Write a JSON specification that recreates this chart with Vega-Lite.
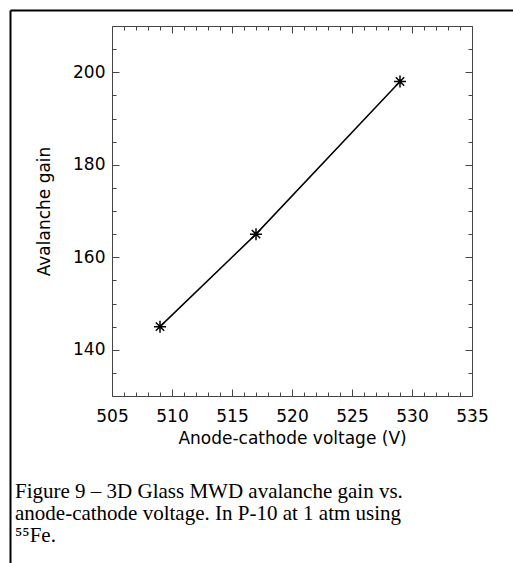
{
  "$schema": "https://vega.github.io/schema/vega-lite/v6.json",
  "autosize": {"type": "none"},
  "padding": {"left": 112, "top": 26, "right": 41, "bottom": 167},
  "width": 360,
  "height": 370,
  "background": "white",
  "config": {"view": {"stroke": null}, "axis": {"grid": false}},
  "data": {"values": [
    {"voltage": 509, "gain": 145},
    {"voltage": 517, "gain": 165},
    {"voltage": 529, "gain": 198}
  ]},
  "title": {
    "text": ["Figure 9 – 3D Glass MWD avalanche gain vs.", "anode-cathode voltage.  In P-10 at 1 atm using", "⁵⁵Fe."],
    "orient": "bottom", "anchor": "start", "frame": "group", "align": "left",
    "dx": -97, "offset": -101,
    "font": "Liberation Serif", "fontSize": 21, "fontWeight": "normal", "color": "black", "lineHeight": 22
  },
  "resolve": {"scale": {"x": "independent", "y": "independent"}},
  "layer": [
    {
      "layer": [
        {
          "mark": {"type": "line", "color": "black", "strokeWidth": 1.5},
          "encoding": {
            "x": {"field": "voltage", "type": "quantitative",
              "scale": {"domain": [505, 535], "nice": false, "zero": false},
              "axis": {"orient": "bottom", "values": [505, 510, 515, 520, 525, 530, 535], "format": "d",
                "tickSize": -7, "labelPadding": 19, "domain": true, "domainColor": "#444", "tickColor": "#444",
                "labelFont": "DejaVu Sans", "labelFontSize": 17, "labelColor": "black", "labelFlush": false, "labelOverlap": false,
                "title": "Anode-cathode voltage (V)", "titleFont": "DejaVu Sans", "titleFontSize": 17, "titleFontWeight": "normal", "titleColor": "black", "titlePadding": 6}},
            "y": {"field": "gain", "type": "quantitative",
              "scale": {"domain": [130, 210], "nice": false, "zero": false},
              "axis": {"orient": "left", "values": [140, 160, 180, 200], "format": "d",
                "tickSize": -7, "labelPadding": 14, "domain": true, "domainColor": "#444", "tickColor": "#444",
                "labelFont": "DejaVu Sans", "labelFontSize": 17, "labelColor": "black", "labelFlush": false, "labelOverlap": false,
                "title": "Avalanche gain", "titleFont": "DejaVu Sans", "titleFontSize": 17, "titleFontWeight": "normal", "titleColor": "black", "titlePadding": 19}}
          }
        },
        {
          "mark": {"type": "point", "shape": "M0,-1V1M-1,0H1M-0.7,-0.7L0.7,0.7M-0.7,0.7L0.7,-0.7", "size": 144, "filled": false, "stroke": "black", "strokeWidth": 1.5, "opacity": 1},
          "encoding": {
            "x": {"field": "voltage", "type": "quantitative"},
            "y": {"field": "gain", "type": "quantitative"}
          }
        }
      ]
    },
    {
      "mark": {"type": "point", "opacity": 0},
      "encoding": {
        "x": {"field": "voltage", "type": "quantitative",
          "scale": {"domain": [505, 535], "nice": false, "zero": false},
          "axis": {"orient": "bottom", "values": [506, 507, 508, 509, 511, 512, 513, 514, 516, 517, 518, 519, 521, 522, 523, 524, 526, 527, 528, 529, 531, 532, 533, 534],
            "tickSize": -4, "tickColor": "#444", "labels": false, "domain": false, "title": null}},
        "y": {"field": "gain", "type": "quantitative",
          "scale": {"domain": [130, 210], "nice": false, "zero": false},
          "axis": {"orient": "left", "values": [135, 145, 150, 155, 165, 170, 175, 185, 190, 195, 205],
            "tickSize": -4, "tickColor": "#444", "labels": false, "domain": false, "title": null}}
      }
    },
    {
      "mark": {"type": "point", "opacity": 0},
      "encoding": {
        "x": {"field": "voltage", "type": "quantitative",
          "scale": {"domain": [505, 535], "nice": false, "zero": false},
          "axis": {"orient": "top", "values": [505, 510, 515, 520, 525, 530, 535],
            "tickSize": -7, "tickColor": "#444", "domainColor": "#444", "labels": false, "domain": true, "title": null}},
        "y": {"field": "gain", "type": "quantitative",
          "scale": {"domain": [130, 210], "nice": false, "zero": false},
          "axis": {"orient": "right", "values": [140, 160, 180, 200],
            "tickSize": -7, "tickColor": "#444", "domainColor": "#444", "labels": false, "domain": true, "title": null}}
      }
    },
    {
      "mark": {"type": "point", "opacity": 0},
      "encoding": {
        "x": {"field": "voltage", "type": "quantitative",
          "scale": {"domain": [505, 535], "nice": false, "zero": false},
          "axis": {"orient": "top", "values": [506, 507, 508, 509, 511, 512, 513, 514, 516, 517, 518, 519, 521, 522, 523, 524, 526, 527, 528, 529, 531, 532, 533, 534],
            "tickSize": -4, "tickColor": "#444", "labels": false, "domain": false, "title": null}},
        "y": {"field": "gain", "type": "quantitative",
          "scale": {"domain": [130, 210], "nice": false, "zero": false},
          "axis": {"orient": "right", "values": [135, 145, 150, 155, 165, 170, 175, 185, 190, 195, 205],
            "tickSize": -4, "tickColor": "#444", "labels": false, "domain": false, "title": null}}
      }
    },
    {
      "mark": {"type": "point", "opacity": 0},
      "encoding": {
        "x": {"datum": 0, "type": "quantitative",
          "scale": {"domain": [0, 1], "range": [-102, 401], "nice": false, "zero": false},
          "axis": {"orient": "top", "offset": 16, "ticks": false, "labels": false, "domain": true, "domainColor": "black", "domainWidth": 2, "title": null}},
        "y": {"datum": 0, "type": "quantitative",
          "scale": {"domain": [0, 1], "range": [540, -16], "nice": false, "zero": false},
          "axis": {"orient": "left", "offset": 102, "ticks": false, "labels": false, "domain": true, "domainColor": "black", "domainWidth": 2, "title": null}}
      }
    }
  ]
}
